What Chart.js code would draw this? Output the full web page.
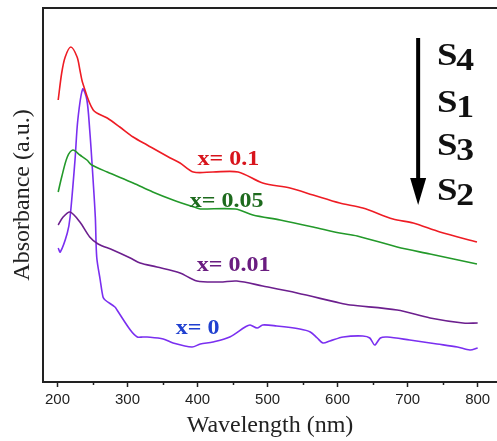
<!DOCTYPE html>
<html>
<head>
<meta charset="utf-8">
<script src="https://cdn.jsdelivr.net/npm/chart.js@4"></script>
<style>
  html, body { margin: 0; padding: 0; background: #fff; overflow: hidden; }
  #wrap { width: 497px; height: 441px; }
</style>
</head>
<body>
<div id="wrap"><canvas id="c" width="497" height="441"></canvas></div>
<script>
// ---- Data (wavelength in nm, absorbance in a.u.) ----
const tickValues = [200, 300, 400, 500, 600, 700, 800];
const minorTickValues = [250, 350, 450, 550, 650, 750];

const nmS4 = [201, 206, 211, 219, 228, 232, 236, 251, 271, 289, 308, 328, 361, 375, 394, 422, 458, 493, 532, 565, 603, 636, 679, 708, 746, 799];
const absS4 = [2.82, 3.09, 3.25, 3.35, 3.25, 3.12, 2.99, 2.72, 2.64, 2.55, 2.45, 2.37, 2.24, 2.19, 2.10, 2.10, 2.10, 1.99, 1.94, 1.87, 1.79, 1.74, 1.63, 1.59, 1.50, 1.40];

const nmS1 = [201, 206, 214, 222, 232, 242, 249, 271, 308, 336, 365, 399, 404, 454, 479, 518, 565, 603, 628, 685, 732, 799];
const absS1 = [1.90, 2.05, 2.25, 2.32, 2.27, 2.22, 2.17, 2.10, 1.99, 1.90, 1.82, 1.74, 1.73, 1.73, 1.67, 1.62, 1.55, 1.49, 1.46, 1.35, 1.28, 1.18];

const nmS3 = [201, 208, 218, 232, 246, 258, 279, 304, 318, 342, 375, 399, 432, 456, 493, 542, 603, 618, 685, 732, 779, 800];
const absS3 = [1.57, 1.65, 1.70, 1.60, 1.45, 1.38, 1.32, 1.24, 1.19, 1.15, 1.09, 1.01, 1.00, 1.01, 0.96, 0.89, 0.79, 0.77, 0.72, 0.64, 0.59, 0.59];

const nmS2 = [201, 204, 214, 218, 225, 229, 236, 242, 246, 249, 254, 256, 261, 265, 268, 282, 285, 304, 314, 322, 328, 351, 365, 392, 404, 422, 446, 468, 475, 485, 493, 513, 546, 561, 571, 579, 589, 608, 636, 646, 653, 661, 671, 703, 742, 771, 789, 800];
const absS2 = [1.34, 1.30, 1.49, 1.65, 2.22, 2.62, 2.93, 2.82, 2.52, 2.22, 1.65, 1.25, 1.02, 0.85, 0.82, 0.75, 0.72, 0.52, 0.45, 0.45, 0.45, 0.43, 0.39, 0.35, 0.38, 0.40, 0.45, 0.55, 0.57, 0.54, 0.57, 0.56, 0.53, 0.50, 0.44, 0.39, 0.41, 0.45, 0.46, 0.44, 0.37, 0.44, 0.45, 0.42, 0.38, 0.35, 0.32, 0.34];

const seriesLabels = ['x= 0.1', 'x= 0.05', 'x= 0.01', 'x= 0'];
const orderLabels = ['S4', 'S1', 'S3', 'S2'];

function pts(xs, ys) { return xs.map((x, i) => ({ x: x, y: ys[i] })); }

// ---- Annotation plugin (positions through the chart scales) ----
const annot = {
  id: 'annot',
  afterDraw(chart) {
    const ctx = chart.ctx;
    const xs = chart.scales.x, ys = chart.scales.y;
    const ca = chart.chartArea;
    ctx.save();
    // top frame line
    ctx.strokeStyle = '#222';
    ctx.lineWidth = 2;
    ctx.beginPath();
    ctx.moveTo(ca.left - 1, ca.top);
    ctx.lineTo(ca.right, ca.top);
    ctx.stroke();
    // minor ticks
    ctx.lineWidth = 1.5;
    minorTickValues.forEach(v => {
      const px = Math.round(xs.getPixelForValue(v)) + 0.5;
      ctx.beginPath();
      ctx.moveTo(px, ca.bottom);
      ctx.lineTo(px, ca.bottom + 3);
      ctx.stroke();
    });
    // series labels
    const labelPos = [
      { nm: 400, a: 2.22, color: '#d8141c' },
      { nm: 389, a: 1.80, color: '#1d6a1d' },
      { nm: 399, a: 1.16, color: '#6a1d80' },
      { nm: 369, a: 0.53, color: '#2040d0' }
    ];
    ctx.font = 'bold 20px "Liberation Serif", "Times New Roman", serif';
    ctx.textBaseline = 'middle';
    ctx.textAlign = 'left';
    seriesLabels.forEach((t, i) => {
      const p = labelPos[i];
      ctx.save();
      ctx.translate(xs.getPixelForValue(p.nm), ys.getPixelForValue(p.a));
      ctx.scale(1.2, 1);
      ctx.fillStyle = p.color;
      ctx.fillText(t, 0, 0);
      ctx.restore();
    });
    // arrow
    const ax = xs.getPixelForValue(715);
    const aTop = ys.getPixelForValue(3.44);
    const aTip = ys.getPixelForValue(1.77);
    ctx.strokeStyle = '#000';
    ctx.fillStyle = '#000';
    ctx.lineWidth = 4;
    ctx.beginPath();
    ctx.moveTo(ax, aTop);
    ctx.lineTo(ax, aTip - 24);
    ctx.stroke();
    ctx.beginPath();
    ctx.moveTo(ax - 8, aTip - 27);
    ctx.lineTo(ax + 8, aTip - 27);
    ctx.lineTo(ax, aTip);
    ctx.closePath();
    ctx.fill();
    // S labels
    const sBase = [3.17, 2.70, 2.27, 1.82];
    const sx = xs.getPixelForValue(742);
    ctx.textBaseline = 'alphabetic';
    orderLabels.forEach((t, i) => {
      const y = ys.getPixelForValue(sBase[i]);
      ctx.save();
      ctx.translate(sx, y);
      ctx.scale(1.15, 1);
      ctx.fillStyle = '#111';
      ctx.font = 'bold 32px "Liberation Serif", "Times New Roman", serif';
      ctx.fillText(t[0], 0, 0);
      const w = ctx.measureText(t[0]).width;
      ctx.font = 'bold 31px "Liberation Serif", "Times New Roman", serif';
      ctx.fillText(t.slice(1), w - 1, 5);
      ctx.restore();
    });
    ctx.restore();
  }
};

const lineStyle = { pointRadius: 0, borderWidth: 1.6, tension: 0.3, fill: false };

new Chart(document.getElementById('c'), {
  type: 'line',
  data: {
    datasets: [
      Object.assign({ label: seriesLabels[0], data: pts(nmS4, absS4), borderColor: '#ee1c24' }, lineStyle),
      Object.assign({ label: seriesLabels[1], data: pts(nmS1, absS1), borderColor: '#23992a' }, lineStyle),
      Object.assign({ label: seriesLabels[2], data: pts(nmS3, absS3), borderColor: '#6c1f8e' }, lineStyle),
      Object.assign({ label: seriesLabels[3], data: pts(nmS2, absS2), borderColor: '#7a2ff0' }, lineStyle)
    ]
  },
  options: {
    responsive: false,
    animation: false,
    events: [],
    layout: { padding: { top: 8, right: 0, left: 0, bottom: 0 } },
    plugins: { legend: { display: false }, tooltip: { enabled: false } },
    scales: {
      x: {
        type: 'linear',
        position: 'bottom',
        min: 179.3,
        max: 827.6,
        afterBuildTicks: (s) => { s.ticks = tickValues.map(v => ({ value: v })); },
        afterFit: (s) => { s.height = 59; },
        grid: { display: true, drawOnChartArea: false, drawTicks: true, tickLength: 5, tickColor: '#222', tickWidth: 1.5 },
        border: { display: true, color: '#222', width: 2 },
        ticks: { color: '#222', padding: 4, maxRotation: 0, autoSkip: false,
                 font: { family: '"Liberation Sans", Arial, sans-serif', size: 15 } },
        title: { display: true, text: 'Wavelength (nm)', color: '#222',
                 font: { family: '"Liberation Serif", "Times New Roman", serif', size: 24 },
                 padding: { top: 0, bottom: 1 } }
      },
      y: {
        type: 'linear',
        min: 0,
        max: 3.74,
        afterFit: (s) => { s.width = 43; },
        grid: { display: false },
        border: { display: true, color: '#222', width: 2 },
        ticks: { display: false },
        title: { display: true, text: 'Absorbance (a.u.)', color: '#222',
                 font: { family: '"Liberation Serif", "Times New Roman", serif', size: 24 },
                 padding: { top: 8, bottom: 0 } }
      }
    }
  },
  plugins: [annot]
});
</script>
</body>
</html>
